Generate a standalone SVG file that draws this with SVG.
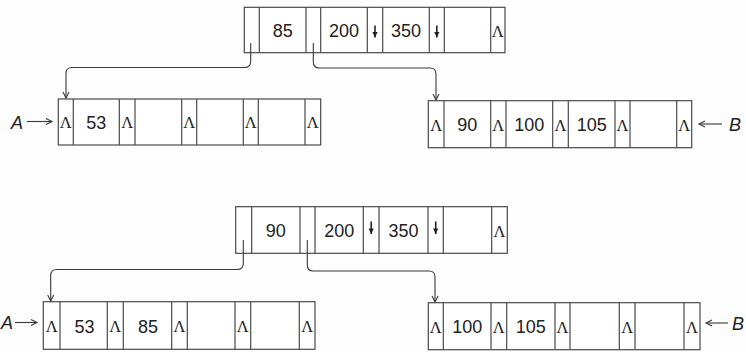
<svg xmlns="http://www.w3.org/2000/svg" width="746" height="352" viewBox="0 0 746 352">
  <defs>
    <style>
      .box { fill: #ffffff; stroke: #4a4a4a; stroke-width: 1.2; }
      .div { stroke: #4a4a4a; stroke-width: 1.2; }
      .num { font-family: "Liberation Sans", Arial, sans-serif; font-size: 18px; fill: #222; text-anchor: middle; }
      .nil { font-family: "Liberation Serif", "Times New Roman", serif; font-size: 16.5px; fill: #222; text-anchor: middle; }
      .lbl { font-family: "Liberation Sans", Arial, sans-serif; font-size: 18px; font-style: italic; fill: #222; }
      .link { fill: none; stroke: #3a3a3a; stroke-width: 1.1; marker-end: url(#open); }
      .ptr { stroke: #222; stroke-width: 1.6; marker-end: url(#solid); }
    </style>
    <!-- open chevron head for connectors and label arrows -->
    <marker id="open" viewBox="-8 -5 10 10" refX="0" refY="0" markerWidth="10" markerHeight="10" markerUnits="userSpaceOnUse" orient="auto">
      <path d="M-6,-3 L0,0 L-6,3" fill="none" stroke="#3a3a3a" stroke-width="1.1"/>
    </marker>
    <!-- filled head for in-node down pointers -->
    <marker id="solid" viewBox="-7 -4 8 8" refX="0" refY="0" markerWidth="8" markerHeight="8" markerUnits="userSpaceOnUse" orient="auto">
      <path d="M-5.5,-2.6 L0,0 L-5.5,2.6 Z" fill="#222"/>
    </marker>
  </defs>

  <rect width="746" height="352" fill="#fdfdfd"/>

  <!-- ===== upper tree ===== -->
  <g id="root1">
    <rect class="box" x="244.3" y="7.3" width="260.7" height="45.4"/>
    <path class="div" d="M259.3,7.3V52.7M306,7.3V52.7M320.7,7.3V52.7M367.3,7.3V52.7M382.7,7.3V52.7M429.3,7.3V52.7M444.3,7.3V52.7M490.7,7.3V52.7"/>
    <text class="num" x="282.7" y="37.3">85</text>
    <text class="num" x="344" y="37.3">200</text>
    <line class="ptr" x1="375" y1="25.5" x2="375" y2="37.5"/>
    <text class="num" x="406" y="37.3">350</text>
    <line class="ptr" x1="436.8" y1="25.5" x2="436.8" y2="37.5"/>
    <text class="nil" x="497.8" y="36.8">Λ</text>
  </g>

  <g id="leafA1">
    <rect class="box" x="58.3" y="99" width="262.4" height="46"/>
    <path class="div" d="M73.3,99V145M119.3,99V145M135,99V145M181.7,99V145M196.7,99V145M243.3,99V145M258.3,99V145M305,99V145"/>
    <text class="nil" x="65.8" y="128.3">Λ</text>
    <text class="num" x="96.3" y="128.8">53</text>
    <text class="nil" x="127.2" y="128.3">Λ</text>
    <text class="nil" x="189.2" y="128.3">Λ</text>
    <text class="nil" x="250.8" y="128.3">Λ</text>
    <text class="nil" x="312.8" y="128.3">Λ</text>
  </g>

  <g id="leafB1">
    <rect class="box" x="428.3" y="100.7" width="263.4" height="47"/>
    <path class="div" d="M444,100.7V147.7M490.7,100.7V147.7M506,100.7V147.7M552.7,100.7V147.7M568.3,100.7V147.7M615,100.7V147.7M630,100.7V147.7M676.7,100.7V147.7"/>
    <text class="nil" x="436.2" y="130.5">Λ</text>
    <text class="num" x="467.3" y="131">90</text>
    <text class="nil" x="498.3" y="130.5">Λ</text>
    <text class="num" x="529.3" y="131">100</text>
    <text class="nil" x="560.5" y="130.5">Λ</text>
    <text class="num" x="591.7" y="131">105</text>
    <text class="nil" x="622.5" y="130.5">Λ</text>
    <text class="nil" x="684.2" y="130.5">Λ</text>
  </g>

  <g id="labelA1">
    <text class="lbl" x="11" y="129.3">A</text>
    <line class="link" x1="27" y1="121.5" x2="52" y2="121.5"/>
  </g>
  <g id="labelB1">
    <line class="link" x1="722" y1="124" x2="699" y2="124"/>
    <text class="lbl" x="729" y="131">B</text>
  </g>

  <!-- ===== lower tree ===== -->
  <g id="root2">
    <rect class="box" x="235.7" y="206.7" width="271.6" height="46.6"/>
    <path class="div" d="M251.7,206.7V253.3M300,206.7V253.3M315,206.7V253.3M363.3,206.7V253.3M379,206.7V253.3M428,206.7V253.3M443.3,206.7V253.3M491.7,206.7V253.3"/>
    <text class="num" x="275.8" y="236.8">90</text>
    <text class="num" x="339.2" y="236.8">200</text>
    <line class="ptr" x1="371.2" y1="221.5" x2="371.2" y2="234"/>
    <text class="num" x="403.5" y="236.8">350</text>
    <line class="ptr" x1="435.7" y1="221.5" x2="435.7" y2="234"/>
    <text class="nil" x="499.5" y="236.5">Λ</text>
  </g>

  <g id="leafA2">
    <rect class="box" x="43.3" y="301.7" width="271.7" height="47.6"/>
    <path class="div" d="M60,301.7V349.3M107.3,301.7V349.3M123.3,301.7V349.3M171.7,301.7V349.3M187.3,301.7V349.3M235,301.7V349.3M250.7,301.7V349.3M299.3,301.7V349.3"/>
    <text class="nil" x="51.7" y="332">Λ</text>
    <text class="num" x="84.5" y="332.5">53</text>
    <text class="nil" x="115.3" y="332">Λ</text>
    <text class="num" x="148" y="332.5">85</text>
    <text class="nil" x="179.5" y="332">Λ</text>
    <text class="nil" x="242.8" y="332">Λ</text>
    <text class="nil" x="307.2" y="332">Λ</text>
  </g>

  <g id="leafB2">
    <rect class="box" x="428.3" y="302.7" width="271.7" height="47"/>
    <path class="div" d="M443.3,302.7V349.7M491,302.7V349.7M506.7,302.7V349.7M555,302.7V349.7M570,302.7V349.7M619.3,302.7V349.7M635,302.7V349.7M684,302.7V349.7"/>
    <text class="nil" x="435.8" y="332.5">Λ</text>
    <text class="num" x="467.2" y="333">100</text>
    <text class="nil" x="498.8" y="332.5">Λ</text>
    <text class="num" x="530.8" y="333">105</text>
    <text class="nil" x="562.5" y="332.5">Λ</text>
    <text class="nil" x="627.2" y="332.5">Λ</text>
    <text class="nil" x="692" y="332.5">Λ</text>
  </g>

  <g id="labelA2">
    <text class="lbl" x="1" y="329">A</text>
    <line class="link" x1="15" y1="322.5" x2="37" y2="322.5"/>
  </g>
  <g id="labelB2">
    <line class="link" x1="728" y1="323" x2="706" y2="323"/>
    <text class="lbl" x="732" y="330">B</text>
  </g>

  <!-- ===== child links ===== -->
  <g id="connectors">
    <path class="link" d="M250.7,43 V61.5 Q250.7,67.5 244.7,67.5 H72 Q66,67.5 66,73.5 V98"/>
    <path class="link" d="M313.3,43 V62 Q313.3,68 319.3,68 H430 Q436,68 436,74 V100"/>
    <path class="link" d="M243.3,240 V263.5 Q243.3,269.5 237.3,269.5 H56.7 Q50.7,269.5 50.7,275.5 V301"/>
    <path class="link" d="M307.3,240 V265 Q307.3,271 313.3,271 H429 Q435,271 435,277 V302"/>
  </g>
</svg>
